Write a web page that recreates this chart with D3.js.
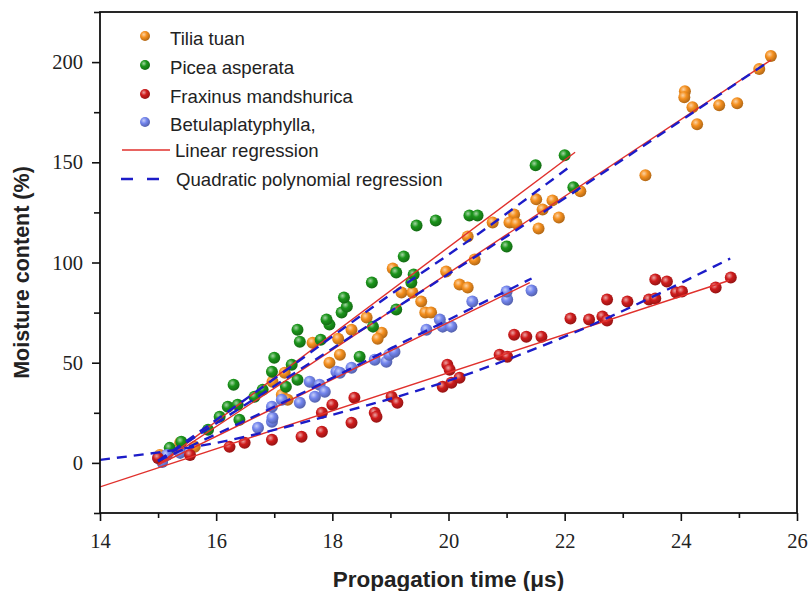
<html>
<head>
<style>
  body { margin: 0; background: #fff; }
  svg text { fill: #222; }
</style>
</head>
<body>
<div id="chart"></div>
<script src="https://d3js.org/d3.v7.min.js"></script>
<script>
// ---- data ----
var tiliaX = [15.03, 15.38, 15.63, 16.97, 17.18, 17.13, 17.23, 17.66, 17.95, 18.13, 18.1, 18.33, 18.59, 18.85, 18.78,
              19.04, 19.19, 19.38, 19.53, 19.6, 19.7, 19.96, 20.19, 20.33, 20.45, 20.33, 20.76, 21.13, 21.05, 21.17,
              21.51, 21.79, 21.62, 21.9, 21.55, 22.27, 23.39, 24.07, 24.06, 24.2, 24.66, 24.97, 24.28, 25.35, 25.55];
var tiliaY = [4, 10, 8, 40.5, 45, 34, 31.5, 60, 50, 54, 62, 66.5, 72.5, 65, 62,
              97, 85, 85, 80.5, 75, 75, 95.5, 89, 87.5, 101.5, 113, 120, 124, 120, 119.5,
              131.5, 131, 126.5, 122.5, 117, 135.5, 143.5, 185.5, 182.5, 177.5, 178.5, 179.5, 169, 196.5, 203];

var piceaX = [15.2, 15.4, 15.86, 16.06, 16.4, 16.2, 16.37, 16.3, 16.66, 16.8, 16.96, 17.0, 17.3, 17.2, 17.4,
              17.4, 17.44, 17.8, 17.95, 17.9, 18.16, 18.25, 18.2, 18.47, 18.7, 18.68, 19.1, 19.1, 19.36, 19.4,
              19.23, 19.45, 19.78, 20.36, 20.5, 21.0, 21.5, 22.0, 22.15];
var piceaY = [7.5, 10.5, 16.5, 23, 21.5, 28, 29, 39, 33, 36.5, 45.5, 52.5, 49, 38, 41.5,
              66.5, 60.5, 61.5, 69, 71.5, 75, 78, 82.5, 53, 68, 90, 76.5, 95, 90, 94,
              103, 118.5, 121, 123.5, 123.5, 108, 148.5, 153.5, 137.5];

var fraxX = [15.0, 15.55, 16.23, 16.49, 16.96, 17.47, 17.82, 17.82, 18.0, 18.33, 18.38, 18.73, 18.76, 19.02, 19.12,
             19.9, 20.05, 20.19, 19.98, 20.02, 20.88, 21.01, 21.13, 21.34, 21.6, 22.1, 22.42, 22.65, 22.73, 22.73,
             23.08, 23.45, 23.56, 23.56, 23.76, 23.92, 24.02, 24.6, 24.86];
var fraxY = [2.5, 4, 8, 10, 11.5, 13, 15.5, 25, 29, 20, 32.5, 25, 23, 33, 30,
             38, 40, 42.5, 49, 46.5, 54, 53, 64, 63, 63, 72, 71.5, 73, 71, 81.5,
             80.5, 81.5, 82, 91.5, 90.5, 85, 85.5, 87.5, 92.5];

var betulaX = [15.0, 15.07, 15.15, 15.38, 16.72, 16.96, 16.97, 16.96, 17.13, 17.44, 17.7, 17.61, 17.78, 17.87, 18.07,
               18.13, 18.33, 18.73, 18.93, 18.98, 19.07, 19.62, 19.9, 20.05, 19.85, 20.41, 21.01, 21.0, 21.43];
var betulaY = [2.5, 0.5, 4, 5, 17.5, 20.5, 22.5, 28, 31.5, 30, 33, 40.5, 39, 35.5, 45.5,
               45, 47.5, 51.5, 50.5, 54, 55.5, 66.5, 68, 68, 71.5, 80.5, 81.5, 85.5, 86];

// regression curves, points
var linTiliaX = [15.0, 25.55], linTiliaY = [-1, 201];
var linPiceaX = [15.0, 22.18], linPiceaY = [-1, 155];
var linFraxX = [14.0, 24.83], linFraxY = [-12, 91];
var linBetulaX = [15.0, 21.4], linBetulaY = [-1, 90];

var quadTiliaX = [15.0, 18, 21, 25.5], quadTiliaY = [1, 57, 113, 200];
var quadPiceaX = [15.0, 17, 19, 20.5, 22.05], quadPiceaY = [1, 42, 84, 114, 147];
var quadFraxX = [14, 16, 18, 20, 22, 24.85], quadFraxY = [1.5, 10, 24, 41, 63, 102];
var quadBetulaX = [15.0, 17, 19, 21.43], quadBetulaY = [1, 28, 57, 92];

var xTicks = [14, 16, 18, 20, 22, 24, 26];
var yTicks = [0, 50, 100, 150, 200];

var legendNames = ["Tilia tuan", "Picea asperata", "Fraxinus mandshurica", "Betulaplatyphylla,"];
var colors = ["#f5901f", "#1b951b", "#cf1c1c", "#7486ee"];

// ---- chart ----
var W = 811, H = 591;
var pLeft = 100, pRight = 797, pTop = 12, pBottom = 513;

var svg = d3.select('#chart').append('svg')
    .attr('width', W).attr('height', H);

var x = d3.scaleLinear().domain([14, 26]).range([pLeft, pRight]);
var y = d3.scaleLinear().domain([-25, 225]).range([pBottom, pTop]);

var defs = svg.append('defs');
colors.forEach(function (c, i) {
    var g = defs.append('radialGradient').attr('id', 'ball' + i)
        .attr('cx', '38%').attr('cy', '35%').attr('r', '65%');
    g.append('stop').attr('offset', '0%').attr('stop-color', d3.interpolateRgb(c, '#fff')(0.6));
    g.append('stop').attr('offset', '45%').attr('stop-color', c);
    g.append('stop').attr('offset', '100%').attr('stop-color', d3.color(c).darker(0.9));
});

defs.append('clipPath').attr('id', 'plotclip')
    .append('rect').attr('x', pLeft).attr('y', pTop)
    .attr('width', pRight - pLeft).attr('height', pBottom - pTop);

var series = [
    { xs: tiliaX, ys: tiliaY, c: 0 },
    { xs: piceaX, ys: piceaY, c: 1 },
    { xs: betulaX, ys: betulaY, c: 3 },
    { xs: fraxX, ys: fraxY, c: 2 }
];

var plot = svg.append('g').attr('clip-path', 'url(#plotclip)');

function zip(a, b) { return a.map(function (v, i) { return [v, b[i]]; }); }

series.forEach(function (s) {
    plot.append('g').selectAll('circle')
        .data(zip(s.xs, s.ys))
        .enter()
        .append('circle')
        .attr('cx', function (d) { return x(d[0]); })
        .attr('cy', function (d) { return y(d[1]); })
        .attr('r', 6)
        .attr('fill', 'url(#ball' + s.c + ')');
});

var line = d3.line()
    .x(function (d) { return x(d[0]); })
    .y(function (d) { return y(d[1]); })
    .curve(d3.curveMonotoneX);

var linears = [[linTiliaX, linTiliaY], [linPiceaX, linPiceaY], [linFraxX, linFraxY], [linBetulaX, linBetulaY]];
var quads = [[quadTiliaX, quadTiliaY], [quadPiceaX, quadPiceaY], [quadFraxX, quadFraxY], [quadBetulaX, quadBetulaY]];

linears.forEach(function (l) {
    plot.append('path').attr('d', line(zip(l[0], l[1])))
        .attr('fill', 'none').attr('stroke', '#e0302c').attr('stroke-width', 1.4);
});
quads.forEach(function (q) {
    plot.append('path').attr('d', line(zip(q[0], q[1])))
        .attr('fill', 'none').attr('stroke', '#1c1cc8').attr('stroke-width', 2.4)
        .attr('stroke-dasharray', '10,7');
});

// frame
svg.append('rect').attr('x', pLeft).attr('y', pTop)
    .attr('width', pRight - pLeft).attr('height', pBottom - pTop)
    .attr('fill', 'none').attr('stroke', '#111').attr('stroke-width', 1.8);

// axes
var xAxis = d3.axisBottom(x).tickValues(xTicks).tickSize(8).tickPadding(12).tickFormat(d3.format('d'));
var yAxis = d3.axisLeft(y).tickValues(yTicks).tickSize(8).tickPadding(9).tickFormat(d3.format('d'));

var gx = svg.append('g').attr('transform', 'translate(0,' + pBottom + ')').call(xAxis);
var gy = svg.append('g').attr('transform', 'translate(' + pLeft + ',0)').call(yAxis);

var gxm = svg.append('g').attr('transform', 'translate(0,' + pBottom + ')')
    .call(d3.axisBottom(x).tickValues([15, 17, 19, 21, 23, 25]).tickSize(5).tickFormat(''));
var gym = svg.append('g').attr('transform', 'translate(' + pLeft + ',0)')
    .call(d3.axisLeft(y).tickValues([-25, 25, 75, 125, 175, 225]).tickSize(6).tickFormat(''));

[gx, gy, gxm, gym].forEach(function (g) {
    g.select('.domain').remove();
    g.selectAll('line').attr('stroke', '#111').attr('stroke-width', 1.6);
    g.selectAll('text').attr('font-family', 'Liberation Serif, serif').attr('font-size', 20.5).attr('fill', '#333');
});

svg.append('text').attr('x', (pLeft + pRight) / 2).attr('y', 587)
    .attr('text-anchor', 'middle').attr('font-family', 'Liberation Sans, Arial, sans-serif')
    .attr('font-weight', 'bold').attr('font-size', 22.5).text('Propagation time (μs)');

svg.append('text').attr('transform', 'translate(29,' + ((pTop + pBottom) / 2 + 10) + ') rotate(-90)')
    .attr('text-anchor', 'middle').attr('font-family', 'Liberation Sans, Arial, sans-serif')
    .attr('font-weight', 'bold').attr('font-size', 21.5).text('Moisture content (%)');

// legend
var lg = svg.append('g').attr('font-family', 'Liberation Sans, Arial, sans-serif').attr('font-size', 18.6);
var rowY = [38, 67, 96, 124];
legendNames.forEach(function (n, i) {
    lg.append('circle').attr('cx', 145).attr('cy', rowY[i] - 2).attr('r', 5).attr('fill', 'url(#ball' + i + ')');
    lg.append('text').attr('x', 170).attr('y', rowY[i] + 7).text(n);
});
lg.append('line').attr('x1', 122).attr('x2', 170).attr('y1', 150).attr('y2', 150)
    .attr('stroke', '#e0302c').attr('stroke-width', 1.4);
lg.append('text').attr('x', 175).attr('y', 157).text('Linear regression');
lg.append('line').attr('x1', 121).attr('x2', 160).attr('y1', 179).attr('y2', 179)
    .attr('stroke', '#1c1cc8').attr('stroke-width', 2.4).attr('stroke-dasharray', '12,14');
lg.append('text').attr('x', 176).attr('y', 186).text('Quadratic polynomial regression');
</script>
</body>
</html>
